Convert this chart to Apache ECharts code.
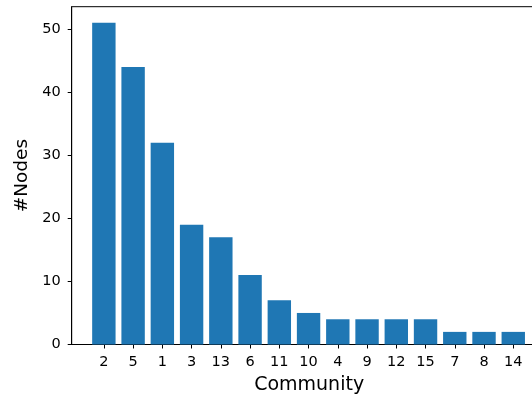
<!DOCTYPE html>
<html>
<head>
<meta charset="utf-8">
<script src="https://cdn.jsdelivr.net/npm/echarts@6/dist/echarts.min.js"></script>
<style>html,body{margin:0;padding:0;background:#fff}#c{width:532px;height:394px}</style>
</head>
<body>
<div id="c"></div>
<script>
const categories = ['2','5','1','3','13','6','11','10','4','9','12','15','7','8','14'];
const nodeCounts = [51,44,32,19,17,11,7,5,4,4,4,4,2,2,2];
const yTicks = [0,10,20,30,40,50];

const positions = categories.map((c, i) => i);
const font = 'DejaVu Sans';
const chart = echarts.init(document.getElementById('c'), null, {renderer: 'canvas'});
chart.setOption({
  animation: false,
  backgroundColor: '#fff',
  grid: {left: 71.7, top: 6.7, width: 474.9, height: 337.8, show: true, borderColor: '#000', borderWidth: 1, backgroundColor: 'transparent', containLabel: false, outerBoundsMode: 'none'},
  xAxis: {
    type: 'value', min: -1.1, max: 15.14,
    name: 'Community', nameLocation: 'middle', nameGap: 31,
    nameTextStyle: {fontFamily: font, fontSize: 19, color: '#000'},
    axisLine: {show: true, onZero: false, lineStyle: {color: '#000', width: 1}},
    axisTick: {show: true, length: 4, customValues: positions, lineStyle: {color: '#000'}},
    axisLabel: {customValues: positions, formatter: v => categories[Math.round(v)], fontFamily: font, fontSize: 14.5, color: '#000', margin: 10},
    splitLine: {show: false}
  },
  yAxis: {
    type: 'value', min: 0, max: 53.55,
    name: '#Nodes', nameLocation: 'middle', nameGap: 38,
    nameTextStyle: {fontFamily: font, fontSize: 18.5, color: '#000'},
    axisLine: {show: true, onZero: false, lineStyle: {color: '#000', width: 1}},
    axisTick: {show: true, length: 4, customValues: yTicks, lineStyle: {color: '#000'}},
    axisLabel: {customValues: yTicks, fontFamily: font, fontSize: 14.5, color: '#000', margin: 11},
    splitLine: {show: false}
  },
  series: [{
    type: 'bar',
    data: positions.map((p, i) => [p, nodeCounts[i]]),
    barWidth: 23.4,
    itemStyle: {color: '#1f77b4'}
  }]
});
</script>
</body>
</html>
